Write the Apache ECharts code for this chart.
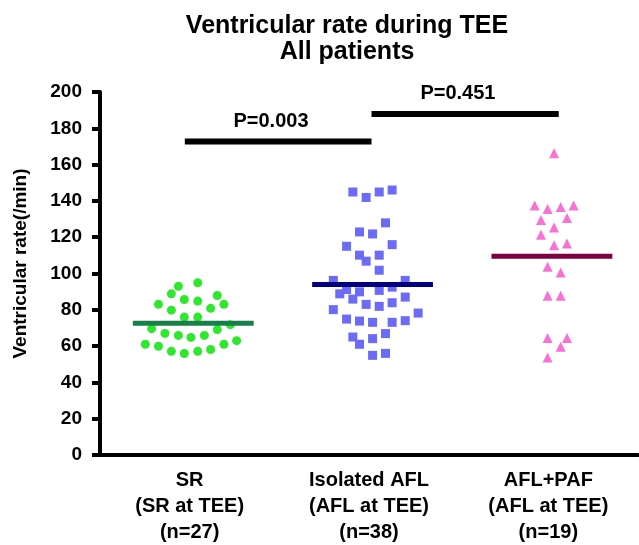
<!DOCTYPE html>
<html><head><meta charset="utf-8">
<script src="https://cdn.jsdelivr.net/npm/echarts@6/dist/echarts.min.js"></script>
<style>html,body{margin:0;padding:0;background:#fff}#c{width:639px;height:545px}</style>
</head><body><div id="c"></div>
<script>
// ---- data ----
const categories = ['SR\n(SR at TEE)\n(n=27)', 'Isolated AFL\n(AFL at TEE)\n(n=38)', 'AFL+PAF\n(AFL at TEE)\n(n=19)'];
const titleLines = ['Ventricular rate during TEE', 'All patients'];
const yAxisName = 'Ventricular rate(/min)';

// SR group: horizontal position (value axis, group centred at 0.5) and rate
const srX = [0.437,0.545,0.398,0.654,0.326,0.470,0.545,0.691,0.617,0.398,0.470,0.545,0.288,0.727,0.654,0.362,0.437,0.507,0.582,0.253,0.326,0.691,0.762,0.398,0.470,0.545,0.617];
const srY = [93.0,94.9,88.8,87.9,83.0,85.7,84.8,83.0,80.8,79.8,76.0,76.0,69.6,71.8,69.1,67.0,65.9,64.8,65.9,61.0,59.9,61.0,63.0,57.1,55.9,57.1,58.1];

// Isolated AFL group (centred at 1.5)
const aflX = [1.410,1.484,1.557,1.629,1.592,1.447,1.520,1.375,1.629,1.447,1.557,1.484,1.557,1.301,1.702,1.375,1.447,1.557,1.629,1.337,1.410,1.484,1.557,1.629,1.702,1.301,1.375,1.447,1.520,1.629,1.702,1.774,1.410,1.447,1.520,1.592,1.520,1.592];
const aflY = [144.9,141.9,144.9,146.0,127.9,122.9,121.8,115.0,115.9,110.1,110.1,106.8,101.8,96.2,96.2,91.2,89.9,90.7,92.5,88.8,85.9,83.0,81.9,83.9,87.0,80.1,74.9,73.8,73.1,73.1,74.0,78.2,65.0,61.0,64.1,66.9,54.9,56.0];

// AFL+PAF group (centred at 2.5)
const pafX = [2.532,2.424,2.496,2.569,2.641,2.459,2.604,2.532,2.459,2.532,2.604,2.496,2.569,2.496,2.569,2.496,2.604,2.569,2.496];
const pafY = [166.3,137.5,135.5,136.6,137.5,129.5,130.6,125.4,121.3,115.6,116.5,103.7,100.5,87.7,87.7,64.5,64.5,59.7,53.7];

// group means
const means = [72.6, 94.0, 109.5];

// significance brackets
const pLabels = ['P=0.003', 'P=0.451'];
const bracketFrom = [0, 1];
const bracketTo = [1, 2];
const bracketY = [172.7, 187.9];

// ---- styles ----
const FONT = '"Liberation Sans", Arial, sans-serif';
const pointColors = ['#2ee82e', '#6b6bf5', '#f772d4'];
const meanColors = ['#17804a', '#000080', '#80003f'];
const symbols = ['circle', 'rect', 'triangle'];
const symbolSizes = [9, 9, 10];
const meanHalf = 0.337, meanShift = 0.02;
const bracketPadL = [0.027, -0.014], bracketPadR = [0.014, 0.058];

const groupsX = [srX, aflX, pafX];
const groupsY = [srY, aflY, pafY];

const series = [];
groupsX.forEach((xs, g) => {
  series.push({
    type: 'scatter', xAxisIndex: 1, yAxisIndex: 0,
    symbol: symbols[g], symbolSize: symbolSizes[g],
    itemStyle: { color: pointColors[g], opacity: 1 },
    data: xs.map((x, i) => [x, groupsY[g][i]]),
    z: 2, silent: true
  });
});
means.forEach((m, g) => {
  const c = g + 0.5 + meanShift;
  series.push({
    type: 'line', xAxisIndex: 1, yAxisIndex: 0, symbol: 'none',
    lineStyle: { color: meanColors[g], width: 5 },
    data: [[c - meanHalf, m], [c + meanHalf, m]], z: 3, silent: true
  });
});
pLabels.forEach((p, k) => {
  const a = bracketFrom[k] + 0.5 - bracketPadL[k], b = bracketTo[k] + 0.5 + bracketPadR[k];
  series.push({
    type: 'line', xAxisIndex: 1, yAxisIndex: 0, symbol: 'none',
    lineStyle: { color: '#000', width: 6 },
    data: [[a, bracketY[k]], [b, bracketY[k]]], z: 3, silent: true
  });
  series.push({
    type: 'scatter', xAxisIndex: 1, yAxisIndex: 0, symbolSize: 0,
    itemStyle: { opacity: 1 },
    data: [[(a + b) / 2 - 0.04, bracketY[k]]],
    label: { show: true, position: 'top', distance: 10, formatter: p,
      fontFamily: FONT, fontWeight: 'bold', fontSize: 20, color: '#000' },
    silent: true
  });
});

const chart = echarts.init(document.getElementById('c'), null, { renderer: 'canvas' });
chart.setOption({
  animation: false,
  backgroundColor: '#fff',
  title: {
    text: titleLines.join('\n'), left: 342, top: 8, textAlign: 'center',
    textStyle: { fontFamily: FONT, fontWeight: 'bold', fontSize: 25, lineHeight: 26, color: '#000' }
  },
  grid: { left: 100, right: 1, top: 92, bottom: 89, containLabel: false },
  xAxis: [
    { type: 'category', data: categories, boundaryGap: true,
      axisLine: { lineStyle: { color: '#000', width: 4 } },
      axisTick: { alignWithLabel: true, length: 8, lineStyle: { color: '#000', width: 4 } },
      axisLabel: { fontFamily: FONT, fontWeight: 'bold', fontSize: 20, lineHeight: 26, color: '#000', margin: 12, interval: 0 },
      splitLine: { show: false } },
    { type: 'value', min: 0, max: 3, show: false, splitLine: { show: false } }
  ],
  yAxis: [{
    type: 'value', min: 0, max: 200, interval: 20,
    name: yAxisName, nameLocation: 'middle', nameGap: 70, nameRotate: 90,
    nameTextStyle: { fontFamily: FONT, fontWeight: 'bold', fontSize: 19, color: '#000', padding: [0, 0, 0, 20] },
    axisLine: { show: true, lineStyle: { color: '#000', width: 4 } },
    axisTick: { show: true, length: 8, lineStyle: { color: '#000', width: 4 } },
    axisLabel: { fontFamily: FONT, fontWeight: 'bold', fontSize: 19, color: '#000', margin: 18 },
    splitLine: { show: false }
  }],
  series: series
});
</script></body></html>
